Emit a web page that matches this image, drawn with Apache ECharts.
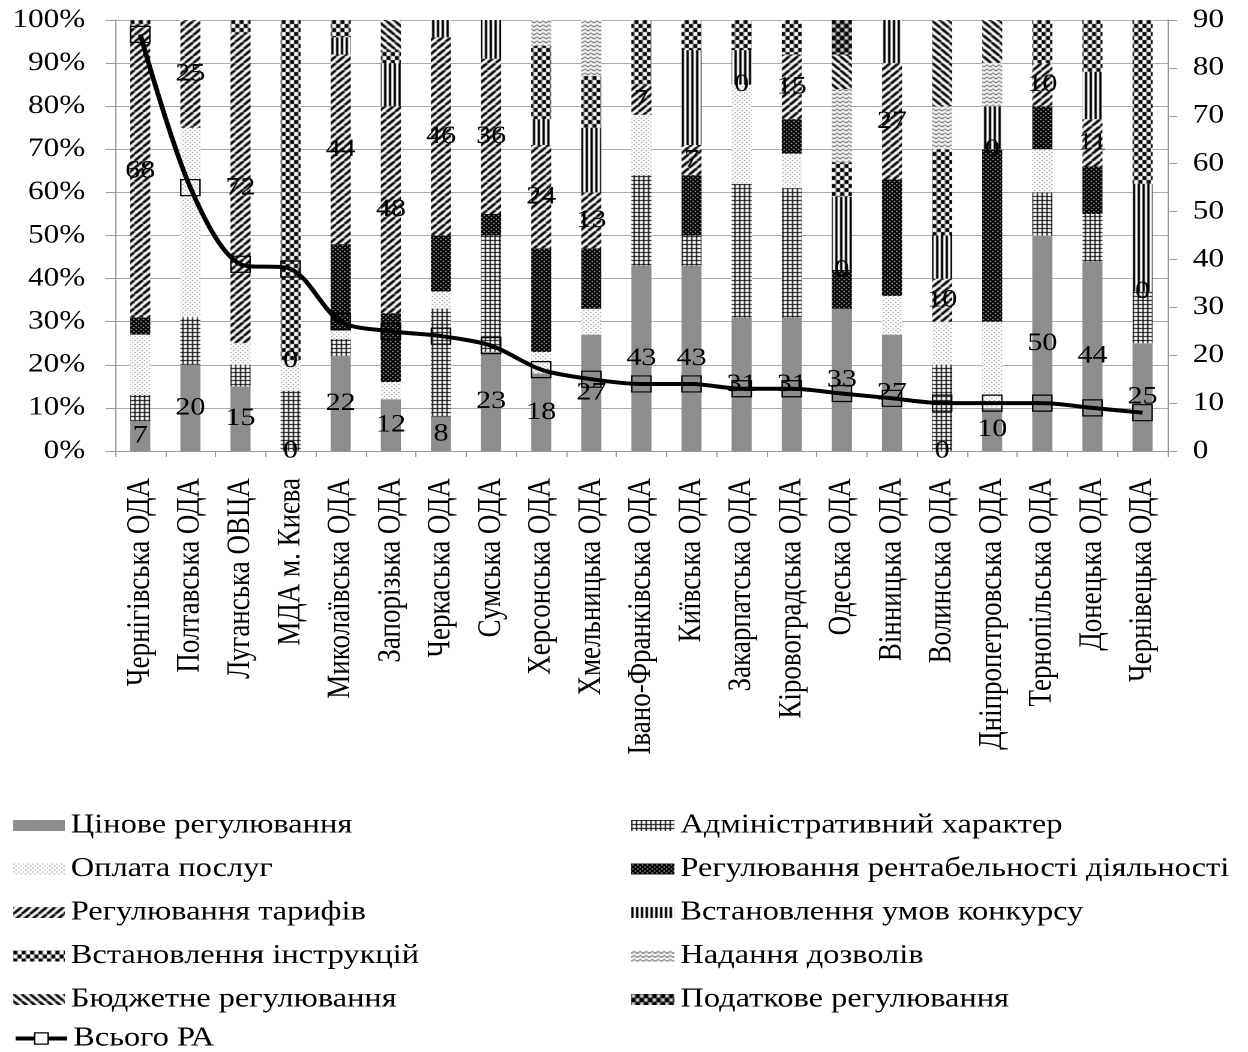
<!DOCTYPE html>
<html>
<head>
<meta charset="utf-8">
<script src="https://cdn.jsdelivr.net/npm/echarts@6/dist/echarts.min.js"></script>
<style>
html,body{margin:0;padding:0;background:#fff;overflow:hidden;}
#wrap{width:1248px;height:1052px;overflow:hidden;}
#main{width:1040px;height:1052px;transform:scaleX(1.2);transform-origin:0 0;}
</style>
</head>
<body>
<div id="wrap"><div id="main"></div></div>
<script>
// ---------- data ----------
var categories = ['Чернігівська ОДА','Полтавська ОДА','Луганська ОВЦА','МДА м. Києва','Миколаївська ОДА','Запорізька ОДА','Черкаська ОДА','Сумська ОДА','Херсонська ОДА','Хмельницька ОДА','Івано-Франківська ОДА','Київська ОДА','Закарпатська ОДА','Кіровоградська ОДА','Одеська ОДА','Вінницька ОДА','Волинська ОДА','Дніпропетровська ОДА','Тернопільська ОДА','Донецька ОДА','Чернівецька ОДА'];
var priceReg      = [7,20,15,0,22,12,8,23,18,27,43,43,31,31,33,27,0,10,50,44,25];
var adminChar     = [6,11,5,14,4,0,25,27,0,0,21,7,31,30,0,0,20,0,10,11,12];
var servicePay    = [14,44,5,7,2,4,4,0,5,6,14,0,23,8,0,9,10,20,10,0,0];
var profitReg     = [4,0,0,0,20,16,13,5,24,14,0,14,0,8,9,27,0,40,10,11,0];
var tariffReg     = [68,25,72,0,44,48,46,36,24,13,7,7,0,15,0,27,10,0,10,11,0];
var contestCond   = [0,0,0,0,4,10,4,9,6,15,0,22,8,0,17,10,10,10,0,11,25];
var instructions  = [1,0,3,79,4,3,0,0,17,12,15,7,7,8,8,0,20,0,10,12,38];
var permits       = [0,0,0,0,0,0,0,0,6,13,0,0,0,0,17,0,10,10,0,0,0];
var budgetReg     = [0,0,0,0,0,7,0,0,0,0,0,0,0,0,8,0,20,10,0,0,0];
var taxReg        = [0,0,0,0,0,0,0,0,0,0,0,0,0,0,8,0,0,0,0,0,0];
var totalRA       = [87,55,39,38,27,25,24,22,17,15,14,14,13,13,12,11,10,10,10,9,8];
var leftTicks = [0,10,20,30,40,50,60,70,80,90,100];
var rightTicks = [0,10,20,30,40,50,60,70,80,90];

// ---------- patterns ----------
function pat(w, h, draw) {
  var c = document.createElement('canvas');
  c.width = w; c.height = h;
  var ctx = c.getContext('2d');
  ctx.fillStyle = '#fff'; ctx.fillRect(0, 0, w, h);
  draw(ctx, w, h);
  return { image: c, repeat: 'repeat' };
}
var P = {
  price: pat(2, 2, function (c) { c.fillStyle = '#777'; c.fillRect(0,0,2,2); c.fillStyle = '#a5a5a5'; c.fillRect(0,0,1,1); c.fillRect(1,1,1,1); }),
  admin: pat(4, 4, function (c) { c.fillStyle = '#000'; c.fillRect(0,0,4,1); c.fillRect(0,0,1,4); }),
  pay: pat(4, 4, function (c) { c.fillStyle = '#777'; c.fillRect(0,0,1,1); c.fillRect(2,2,1,1); }),
  profit: pat(4, 4, function (c) { c.fillStyle = '#000'; c.fillRect(0,0,4,4); c.fillStyle = '#fff'; c.fillRect(1,1,1,1); c.fillRect(3,3,1,1); }),
  tariff: pat(7, 7, function (c) { c.strokeStyle = '#000'; c.lineWidth = 2.4; c.beginPath(); for (var k = -1; k <= 1; k++) { c.moveTo(k*7, 7); c.lineTo(k*7+7, 0); } c.stroke(); }),
  contest: pat(4, 4, function (c) { c.fillStyle = '#000'; c.fillRect(0,0,2,4); }),
  instr: pat(7, 8, function (c) { c.fillStyle = '#000'; c.fillRect(0,0,3.5,4); c.fillRect(3.5,4,3.5,4); }),
  permit: pat(5, 4, function (c) { c.strokeStyle = '#000'; c.lineWidth = 0.8; c.beginPath(); c.moveTo(0,3); c.lineTo(2.5,1); c.lineTo(5,3); c.stroke(); }),
  budget: pat(7, 7, function (c) { c.strokeStyle = '#000'; c.lineWidth = 2.4; c.beginPath(); for (var k = -1; k <= 1; k++) { c.moveTo(k*7, 0); c.lineTo(k*7+7, 7); } c.stroke(); }),
  tax: pat(7, 8, function (c) { c.fillStyle = '#888'; c.fillRect(0,0,7,8); c.fillStyle = '#fff'; c.fillRect(1,1,1.5,2); c.fillRect(4.5,5,1.5,2); c.fillStyle = '#000'; c.fillRect(3.5,0,3.5,4); c.fillRect(0,4,3.5,4); })
};

var FONT = "'Liberation Serif', 'Times New Roman', serif";
var lbl = { show: true, position: 'inside', color: '#000', fontSize: 25, fontFamily: FONT, formatter: '{c}' };

function bar(name, data, color, withLabel) {
  return {
    name: name, type: 'bar', stack: 'all', data: data, barWidth: '40%',
    itemStyle: { color: color },
    label: withLabel ? lbl : { show: false },
    emphasis: { disabled: true }
  };
}

var series = [
  bar('Цінове регулювання', priceReg, P.price, true),
  bar('Адміністративний характер', adminChar, P.admin, false),
  bar('Оплата послуг', servicePay, P.pay, false),
  bar('Регулювання рентабельності діяльності', profitReg, P.profit, false),
  bar('Регулювання тарифів', tariffReg, P.tariff, true),
  bar('Встановлення умов конкурсу', contestCond, P.contest, false),
  bar('Встановлення інструкцій', instructions, P.instr, false),
  bar('Надання дозволів', permits, P.permit, false),
  bar('Бюджетне регулювання', budgetReg, P.budget, false),
  bar('Податкове регулювання', taxReg, P.tax, false),
  {
    name: 'Всього РА', type: 'line', yAxisIndex: 1, data: totalRA,
    smooth: 0.3, symbol: 'rect', symbolSize: 16, z: 5,
    lineStyle: { color: '#000', width: 4 },
    itemStyle: { color: 'rgba(255,255,255,0)', borderColor: '#000', borderWidth: 1.2 },
    emphasis: { disabled: true }
  }
];

var legendText = { fontFamily: FONT, fontSize: 27, color: '#000', lineHeight: 26 };
var legendBase = { orient: 'vertical', itemWidth: 43, itemHeight: 11, itemGap: 16.5, textStyle: legendText, selectedMode: false, padding: 0 };

var option = {
  animation: false,
  backgroundColor: '#fff',
  grid: { left: 96, right: 67, top: 20, bottom: 601, containLabel: false },
  legend: [
    Object.assign({}, legendBase, { left: 11, top: 812, icon: 'rect',
      data: ['Цінове регулювання','Оплата послуг','Регулювання тарифів','Встановлення інструкцій','Бюджетне регулювання'] }),
    Object.assign({}, legendBase, { left: 11, top: 1025, itemHeight: 14,
      lineStyle: { width: 4, color: '#000' },
      itemStyle: { color: '#fff', borderColor: '#000', borderWidth: 1.2 },
      data: ['Всього РА'] }),
    Object.assign({}, legendBase, { left: 526, top: 812, icon: 'rect', itemWidth: 36,
      data: ['Адміністративний характер','Регулювання рентабельності діяльності','Встановлення умов конкурсу','Надання дозволів','Податкове регулювання'] })
  ],
  xAxis: {
    type: 'category', data: categories,
    axisLine: { lineStyle: { color: '#999', width: 1 } },
    axisTick: { show: true, length: 6, lineStyle: { color: '#999' } },
    axisLabel: { rotate: 90, margin: 27, color: '#000', fontSize: 27, fontFamily: FONT, interval: 0 }
  },
  yAxis: [
    {
      type: 'value', min: leftTicks[0], max: leftTicks[leftTicks.length-1], interval: 10,
      axisLine: { show: true, lineStyle: { color: '#999' } },
      axisTick: { show: true, length: 8, lineStyle: { color: '#999' } },
      splitLine: { show: true, lineStyle: { color: '#aaa', width: 1 } },
      axisLabel: { formatter: '{value}%', margin: 25, color: '#000', fontSize: 26, fontFamily: FONT }
    },
    {
      type: 'value', min: rightTicks[0], max: rightTicks[rightTicks.length-1], interval: 10, position: 'right',
      axisLine: { show: true, lineStyle: { color: '#999' } },
      axisTick: { show: true, length: 8, lineStyle: { color: '#999' } },
      splitLine: { show: false },
      axisLabel: { margin: 21, color: '#000', fontSize: 26, fontFamily: FONT }
    }
  ],
  series: series
};

var chart = echarts.init(document.getElementById('main'), null, { renderer: 'canvas', devicePixelRatio: 2 });
chart.setOption(option);
</script>
</body>
</html>
